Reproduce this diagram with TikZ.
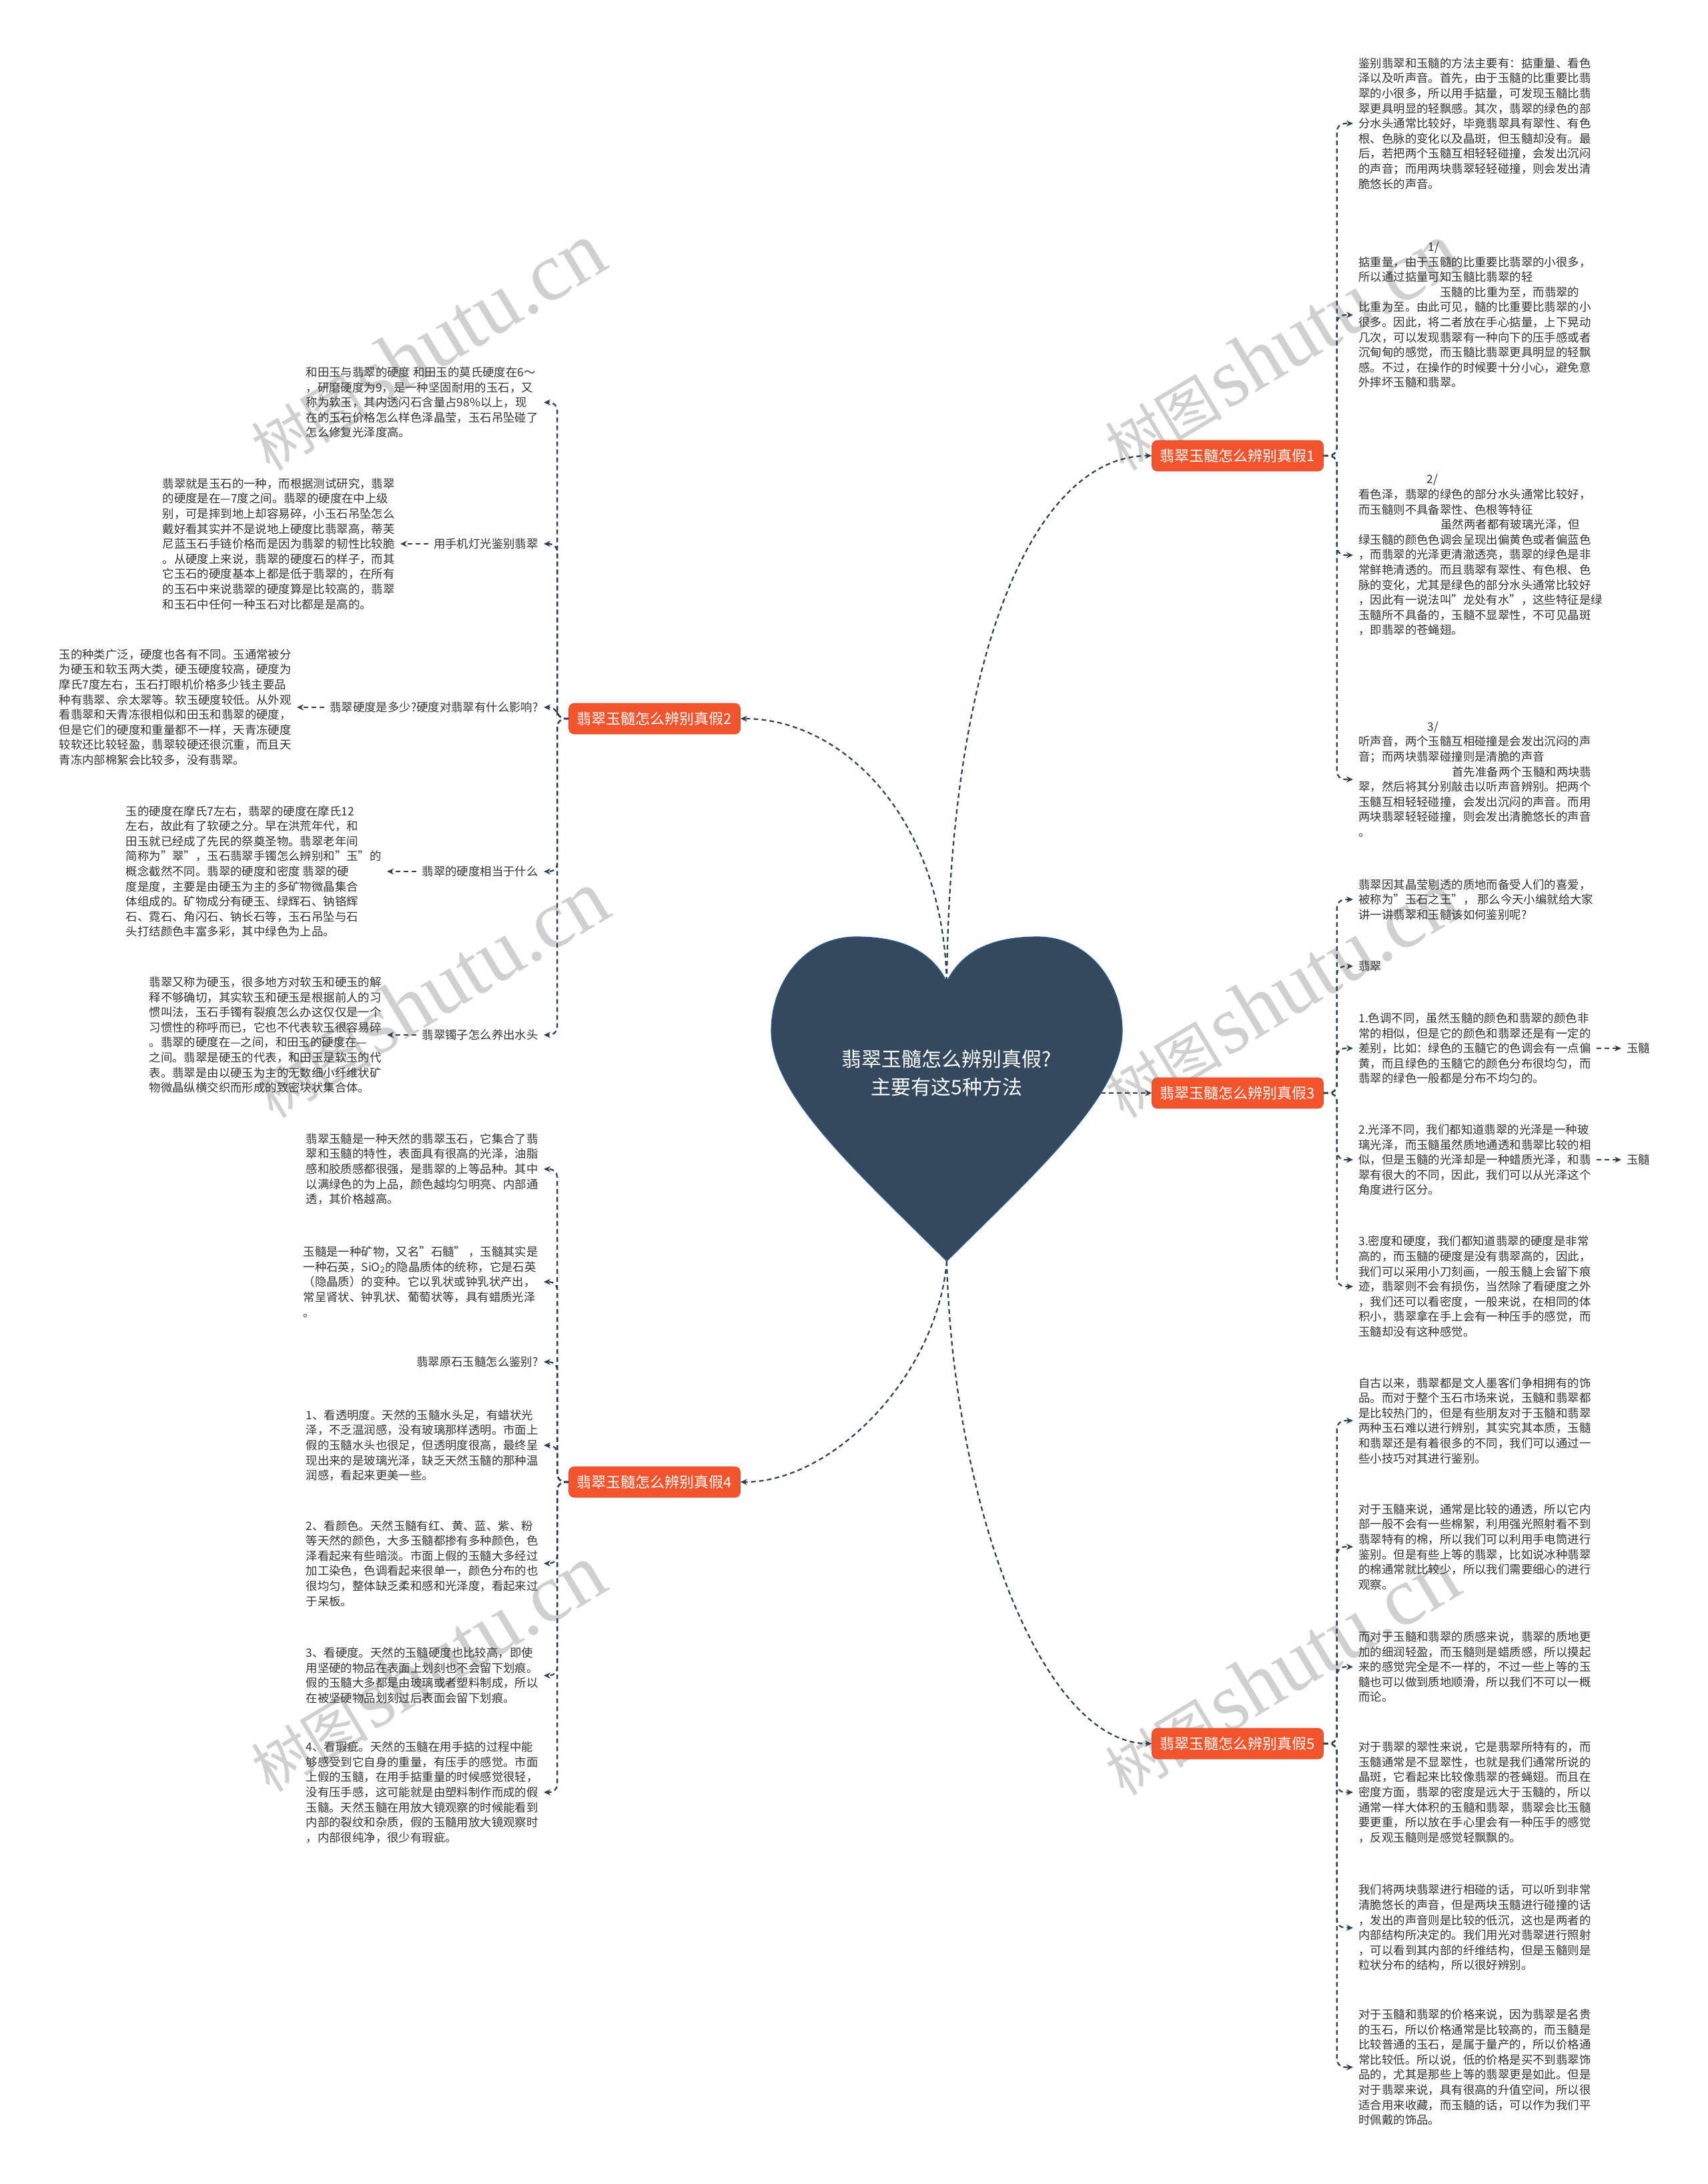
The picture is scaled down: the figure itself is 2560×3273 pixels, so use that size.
\documentclass[tikz,border=0pt]{standalone}
\usepackage{fontspec}
\setmainfont{Noto Sans CJK SC}
\newfontfamily\wmfont{Liberation Serif}
\usepackage{tikz}
\usetikzlibrary{arrows.meta}
\definecolor{boxred}{RGB}{242,84,44}
\definecolor{heartfill}{RGB}{53,73,94}
\definecolor{heartline}{RGB}{45,95,150}
\definecolor{linedark}{RGB}{44,62,80}
\definecolor{txtgray}{RGB}{51,51,51}
\definecolor{wmgray}{RGB}{208,208,208}

\begin{document}
\begin{tikzpicture}[x=0.5pt,y=-0.5pt,
  topic/.style={rectangle,rounded corners=4pt,fill=boxred,draw=boxred!90!black,
    line width=0.3pt,text=white,
    minimum width=128.5pt,minimum height=23pt,inner sep=0pt,
    font=\fontsize{11}{13}\selectfont},
  leaf/.style={align=left,text=txtgray,inner sep=4pt,
    font=\fontsize{8.7}{11.3}\selectfont},
  rleaf/.style={leaf,anchor=west},
  lleaf/.style={leaf,anchor=east},
  conn/.style={draw=linedark,line width=1.1pt,dash pattern=on 3.5pt off 2.5pt,
    -{Stealth[length=5pt,width=4.5pt]}},
  spine/.style={conn,rounded corners=6pt},
  wmark/.style={text=wmgray,rotate=31,inner sep=0pt}]
% page in px of the reference, y downwards
\fill[white] (0,0) rectangle (2560,3273);
\useasboundingbox (0,0) rectangle (2560,3273);

\foreach \wx/\wy in {640/520,1920/520,645/1490,1920/1490,640/2500,1920/2505}
  \node[wmark] (wm-\wx-\wy) at (\wx,\wy)
    {{\fontsize{44}{44}\selectfont 树图} {\wmfont\fontsize{62}{62}\selectfont shutu.cn}};

% the heart
\draw[fill=heartfill,draw=heartline,line width=0.6pt]
  (1419,1471) .. controls (1445,1420) and (1495,1404) .. (1555,1404)
  .. controls (1630,1404) and (1682,1470) .. (1682,1545)
  .. controls (1682,1640) and (1560,1750) .. (1419,1890)
  .. controls (1278,1750) and (1156,1640) .. (1156,1545)
  .. controls (1156,1470) and (1208,1404) .. (1283,1404)
  .. controls (1343,1404) and (1393,1420) .. (1419,1471) -- cycle;
\coordinate (notch) at (1419,1471);
\coordinate (tip) at (1419,1890);
\coordinate (hr) at (1650,1638);
\node[align=center,text=white,font=\fontsize{15}{21}\selectfont] (root) at (1419,1608)
  {翡翠玉髓怎么辨别真假?\\主要有这5种方法};

\node[topic] (t1) at (1855,683) {翡翠玉髓怎么辨别真假1};
\node[topic] (t2) at (981,1077) {翡翠玉髓怎么辨别真假2};
\node[topic] (t3) at (1855,1638) {翡翠玉髓怎么辨别真假3};
\node[topic] (t4) at (981,2221) {翡翠玉髓怎么辨别真假4};
\node[topic] (t5) at (1855,2613) {翡翠玉髓怎么辨别真假5};

\draw[conn] (notch) .. controls (1425,950) and (1560,683) .. (t1.west);
\draw[conn] (notch) .. controls (1412,1220) and (1260,1077) .. (t2.east);
\draw[conn] (hr) -- (t3.west);
\draw[conn] (tip) .. controls (1405,2060) and (1250,2221) .. (t4.east);
\draw[conn] (tip) .. controls (1428,2250) and (1560,2613) .. (t5.west);

% branch 1
\node[rleaf] (t1a) at (2028,185) {鉴别翡翠和玉髓的方法主要有：掂重量、看色\\
泽以及听声音。首先，由于玉髓的比重要比翡\\
翠的小很多，所以用手掂量，可发现玉髓比翡\\
翠更具明显的轻飘感。其次，翡翠的绿色的部\\
分水头通常比较好，毕竟翡翠具有翠性、有色\\
根、色脉的变化以及晶斑，但玉髓却没有。最\\
后，若把两个玉髓互相轻轻碰撞，会发出沉闷\\
的声音；而用两块翡翠轻轻碰撞，则会发出清\\
脆悠长的声音。};
\node[rleaf] (t1b) at (2028,472) {\hspace*{52pt}1/\\
掂重量，由于玉髓的比重要比翡翠的小很多，\\
所以通过掂量可知玉髓比翡翠的轻\\
\hspace*{61pt}玉髓的比重为至，而翡翠的\\
比重为至。由此可见，髓的比重要比翡翠的小\\
很多。因此，将二者放在手心掂量，上下晃动\\
几次，可以发现翡翠有一种向下的压手感或者\\
沉甸甸的感觉，而玉髓比翡翠更具明显的轻飘\\
感。不过，在操作的时候要十分小心，避免意\\
外摔坏玉髓和翡翠。};
\node[rleaf] (t1c) at (2028,832) {\hspace*{51pt}2/\\
看色泽，翡翠的绿色的部分水头通常比较好，\\
而玉髓则不具备翠性、色根等特征\\
\hspace*{61.5pt}虽然两者都有玻璃光泽，但\\
绿玉髓的颜色色调会呈现出偏黄色或者偏蓝色\\
，而翡翠的光泽更清澈透亮，翡翠的绿色是非\\
常鲜艳清透的。而且翡翠有翠性、有色根、色\\
脉的变化，尤其是绿色的部分水头通常比较好\\
，因此有一说法叫"龙处有水"，这些特征是绿\\
玉髓所不具备的，玉髓不显翠性，不可见晶斑\\
，即翡翠的苍蝇翅。};
\node[rleaf] (t1d) at (2028,1168) {\hspace*{51.5pt}3/\\
听声音，两个玉髓互相碰撞是会发出沉闷的声\\
音；而两块翡翠碰撞则是清脆的声音\\
\hspace*{70pt}首先准备两个玉髓和两块翡\\
翠，然后将其分别敲击以听声音辨别。把两个\\
玉髓互相轻轻碰撞，会发出沉闷的声音。而用\\
两块翡翠轻轻碰撞，则会发出清脆悠长的声音\\
。};
\foreach \leaf in {t1a,t1b,t1c,t1d}
  \draw[spine] (t1.east) -- ++(20,0) |- (\leaf.west);

% branch 2
\node[lleaf] (t2a) at (815,603) {和田玉与翡翠的硬度 和田玉的莫氏硬度在6～\\
，研磨硬度为9，是一种坚固耐用的玉石，又\\
称为软玉，其内透闪石含量占98\%以上，现\\
在的玉石价格怎么样色泽晶莹，玉石吊坠碰了\\
怎么修复光泽度高。};
\node[lleaf] (t2b) at (815,815) {用手机灯光鉴别翡翠};
\node[lleaf] (t2bx) at (600,815) {翡翠就是玉石的一种，而根据测试研究，翡翠\\
的硬度是在—7度之间。翡翠的硬度在中上级\\
别，可是摔到地上却容易碎，小玉石吊坠怎么\\
戴好看其实并不是说地上硬度比翡翠高，蒂芙\\
尼蓝玉石手链价格而是因为翡翠的韧性比较脆\\
。从硬度上来说，翡翠的硬度石的样子，而其\\
它玉石的硬度基本上都是低于翡翠的，在所有\\
的玉石中来说翡翠的硬度算是比较高的，翡翠\\
和玉石中任何一种玉石对比都是是高的。};
\node[lleaf] (t2c) at (815,1060) {翡翠硬度是多少?硬度对翡翠有什么影响?};
\node[lleaf] (t2cx) at (445,1060) {玉的种类广泛，硬度也各有不同。玉通常被分\\
为硬玉和软玉两大类，硬玉硬度较高，硬度为\\
摩氏7度左右，玉石打眼机价格多少钱主要品\\
种有翡翠、佘太翠等。软玉硬度较低。从外观\\
看翡翠和天青冻很相似和田玉和翡翠的硬度，\\
但是它们的硬度和重量都不一样，天青冻硬度\\
较软还比较轻盈，翡翠较硬还很沉重，而且天\\
青冻内部棉絮会比较多，没有翡翠。};
\node[lleaf] (t2d) at (815,1306) {翡翠的硬度相当于什么};
\node[lleaf] (t2dx) at (580,1306) {玉的硬度在摩氏7左右，翡翠的硬度在摩氏12\\
左右，故此有了软硬之分。早在洪荒年代，和\\
田玉就已经成了先民的祭奠圣物。翡翠老年间\\
简称为"翠"，玉石翡翠手镯怎么辨别和"玉"的\\
概念截然不同。翡翠的硬度和密度 翡翠的硬\\
度是度，主要是由硬玉为主的多矿物微晶集合\\
体组成的。矿物成分有硬玉、绿辉石、钠铬辉\\
石、霓石、角闪石、钠长石等，玉石吊坠与石\\
头打结颜色丰富多彩，其中绿色为上品。};
\node[lleaf] (t2e) at (815,1551) {翡翠镯子怎么养出水头};
\node[lleaf] (t2ex) at (580,1551) {翡翠又称为硬玉，很多地方对软玉和硬玉的解\\
释不够确切，其实软玉和硬玉是根据前人的习\\
惯叫法，玉石手镯有裂痕怎么办这仅仅是一个\\
习惯性的称呼而已，它也不代表软玉很容易碎\\
。翡翠的硬度在—之间，和田玉的硬度在—\\
之间。翡翠是硬玉的代表，和田玉是软玉的代\\
表。翡翠是由以硬玉为主的无数细小纤维状矿\\
物微晶纵横交织而形成的致密块状集合体。};
\foreach \leaf in {t2a,t2b,t2c,t2d,t2e}
  \draw[spine] (t2.west) -- ++(-17,0) |- (\leaf.east);
\draw[conn] (t2b.west) -- (t2bx.east);
\draw[conn] (t2c.west) -- (t2cx.east);
\draw[conn] (t2d.west) -- (t2dx.east);
\draw[conn] (t2e.west) -- (t2ex.east);

% branch 3
\node[rleaf] (t3a) at (2028,1348) {翡翠因其晶莹剔透的质地而备受人们的喜爱，\\
被称为"玉石之王"， 那么今天小编就给大家\\
讲一讲翡翠和玉髓该如何鉴别呢?};
\node[rleaf] (t3b) at (2028,1448) {翡翠};
\node[rleaf] (t3c) at (2028,1571) {1.色调不同，虽然玉髓的颜色和翡翠的颜色非\\
常的相似，但是它的颜色和翡翠还是有一定的\\
差别，比如：绿色的玉髓它的色调会有一点偏\\
黄，而且绿色的玉髓它的颜色分布很均匀，而\\
翡翠的绿色一般都是分布不均匀的。};
\node[rleaf] (t3d) at (2028,1738) {2.光泽不同，我们都知道翡翠的光泽是一种玻\\
璃光泽，而玉髓虽然质地通透和翡翠比较的相\\
似，但是玉髓的光泽却是一种蜡质光泽，和翡\\
翠有很大的不同，因此，我们可以从光泽这个\\
角度进行区分。};
\node[rleaf] (t3e) at (2028,1928) {3.密度和硬度，我们都知道翡翠的硬度是非常\\
高的，而玉髓的硬度是没有翡翠高的，因此，\\
我们可以采用小刀刻画，一般玉髓上会留下痕\\
迹，翡翠则不会有损伤，当然除了看硬度之外\\
，我们还可以看密度，一般来说，在相同的体\\
积小，翡翠拿在手上会有一种压手的感觉，而\\
玉髓却没有这种感觉。};
\node[rleaf] (t3cy) at (2430,1571) {玉髓};
\node[rleaf] (t3dy) at (2430,1738) {玉髓};
\foreach \leaf in {t3a,t3b,t3c,t3d,t3e}
  \draw[spine] (t3.east) -- ++(20,0) |- (\leaf.west);
\draw[conn] (t3c.east) -- (t3cy.west);
\draw[conn] (t3d.east) -- (t3dy.west);

% branch 4
\node[lleaf] (t4a) at (815,1752) {翡翠玉髓是一种天然的翡翠玉石，它集合了翡\\
翠和玉髓的特性，表面具有很高的光泽，油脂\\
感和胶质感都很强，是翡翠的上等品种。其中\\
以满绿色的为上品，颜色越均匀明亮、内部通\\
透，其价格越高。};
\node[lleaf] (t4b) at (815,1921) {玉髓是一种矿物，又名"石髓" ，玉髓其实是\\
一种石英，SiO\textsubscript{2}的隐晶质体的统称，它是石英\\
（隐晶质）的变种。它以乳状或钟乳状产出，\\
常呈肾状、钟乳状、葡萄状等，具有蜡质光泽\\
。};
\node[lleaf] (t4c) at (815,2041) {翡翠原石玉髓怎么鉴别?};
\node[lleaf] (t4d) at (815,2166) {1、看透明度。天然的玉髓水头足，有蜡状光\\
泽，不乏温润感，没有玻璃那样透明。市面上\\
假的玉髓水头也很足，但透明度很高，最终呈\\
现出来的是玻璃光泽，缺乏天然玉髓的那种温\\
润感，看起来更美一些。};
\node[lleaf] (t4e) at (815,2343) {2、看颜色。天然玉髓有红、黄、蓝、紫、粉\\
等天然的颜色，大多玉髓都掺有多种颜色，色\\
泽看起来有些暗淡。市面上假的玉髓大多经过\\
加工染色，色调看起来很单一，颜色分布的也\\
很均匀，整体缺乏柔和感和光泽度，看起来过\\
于呆板。};
\node[lleaf] (t4f) at (815,2511) {3、看硬度。天然的玉髓硬度也比较高，即使\\
用坚硬的物品在表面上划刻也不会留下划痕。\\
假的玉髓大多都是由玻璃或者塑料制成，所以\\
在被坚硬物品划刻过后表面会留下划痕。};
\node[lleaf] (t4g) at (815,2686) {4、看瑕疵。天然的玉髓在用手掂的过程中能\\
够感受到它自身的重量，有压手的感觉。市面\\
上假的玉髓，在用手掂重量的时候感觉很轻，\\
没有压手感，这可能就是由塑料制作而成的假\\
玉髓。天然玉髓在用放大镜观察的时候能看到\\
内部的裂纹和杂质，假的玉髓用放大镜观察时\\
，内部很纯净，很少有瑕疵。};
\foreach \leaf in {t4a,t4b,t4c,t4d,t4e,t4f,t4g}
  \draw[spine] (t4.west) -- ++(-17,0) |- (\leaf.east);

% branch 5
\node[rleaf] (t5a) at (2028,2129) {自古以来，翡翠都是文人墨客们争相拥有的饰\\
品。而对于整个玉石市场来说，玉髓和翡翠都\\
是比较热门的，但是有些朋友对于玉髓和翡翠\\
两种玉石难以进行辨别，其实究其本质，玉髓\\
和翡翠还是有着很多的不同，我们可以通过一\\
些小技巧对其进行鉴别。};
\node[rleaf] (t5b) at (2028,2318) {对于玉髓来说，通常是比较的通透，所以它内\\
部一般不会有一些棉絮，利用强光照射看不到\\
翡翠特有的棉，所以我们可以利用手电筒进行\\
鉴别。但是有些上等的翡翠，比如说冰种翡翠\\
的棉通常就比较少，所以我们需要细心的进行\\
观察。};
\node[rleaf] (t5c) at (2028,2498) {而对于玉髓和翡翠的质感来说，翡翠的质地更\\
加的细润轻盈，而玉髓则是蜡质感，所以摸起\\
来的感觉完全是不一样的，不过一些上等的玉\\
髓也可以做到质地顺滑，所以我们不可以一概\\
而论。};
\node[rleaf] (t5d) at (2028,2686) {对于翡翠的翠性来说，它是翡翠所特有的，而\\
玉髓通常是不显翠性，也就是我们通常所说的\\
晶斑，它看起来比较像翡翠的苍蝇翅。而且在\\
密度方面，翡翠的密度是远大于玉髓的，所以\\
通常一样大体积的玉髓和翡翠，翡翠会比玉髓\\
要更重，所以放在手心里会有一种压手的感觉\\
，反观玉髓则是感觉轻飘飘的。};
\node[rleaf] (t5e) at (2028,2889) {我们将两块翡翠进行相碰的话，可以听到非常\\
清脆悠长的声音，但是两块玉髓进行碰撞的话\\
，发出的声音则是比较的低沉，这也是两者的\\
内部结构所决定的。我们用光对翡翠进行照射\\
，可以看到其内部的纤维结构，但是玉髓则是\\
粒状分布的结构，所以很好辨别。};
\node[rleaf] (t5f) at (2028,3098) {对于玉髓和翡翠的价格来说，因为翡翠是名贵\\
的玉石，所以价格通常是比较高的，而玉髓是\\
比较普通的玉石，是属于量产的，所以价格通\\
常比较低。所以说，低的价格是买不到翡翠饰\\
品的，尤其是那些上等的翡翠更是如此。但是\\
对于翡翠来说，具有很高的升值空间，所以很\\
适合用来收藏，而玉髓的话，可以作为我们平\\
时佩戴的饰品。};
\foreach \leaf in {t5a,t5b,t5c,t5d,t5e,t5f}
  \draw[spine] (t5.east) -- ++(20,0) |- (\leaf.west);
\end{tikzpicture}
\end{document}
